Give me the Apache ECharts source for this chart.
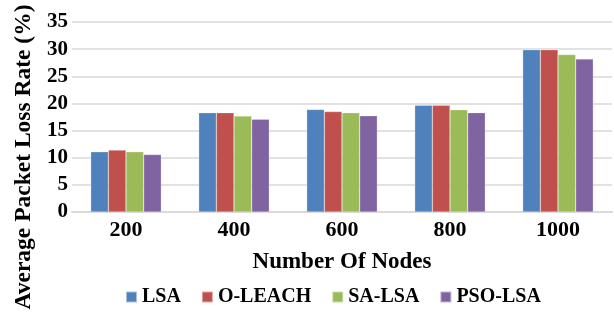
<!DOCTYPE html>
<html>
<head>
<meta charset="utf-8">
<script src="https://cdn.jsdelivr.net/npm/echarts@6/dist/echarts.min.js"></script>
<style>
  html, body { margin: 0; padding: 0; background: #fff; }
  #chart { width: 614px; height: 315px; }
</style>
</head>
<body>
<div id="chart"></div>
<script>
// data
const nodes = ['200', '400', '600', '800', '1000'];
const lsa = [11.1, 18.3, 18.9, 19.65, 29.9];
const oLeach = [11.4, 18.3, 18.5, 19.65, 29.9];
const saLsa = [11.1, 17.7, 18.3, 18.85, 29.0];
const psoLsa = [10.6, 17.1, 17.75, 18.3, 28.2];

const font = '"Liberation Serif", "Times New Roman", serif';

const chart = echarts.init(document.getElementById('chart'));

function bar(name, data, color) {
    return {
        name: name,
        type: 'bar',
        data: data,
        barGap: '0%',
        barCategoryGap: '34.6%',
        itemStyle: { color: color, borderColor: 'rgba(255,255,255,0.5)', borderWidth: 0.5 }
    };
}

chart.setOption({
    animation: false,
    textStyle: { fontFamily: font },
    grid: { left: 72, right: 2, top: 22, bottom: 103, containLabel: false },
    legend: {
        bottom: 3,
        left: 120,
        icon: 'rect',
        itemWidth: 11,
        itemHeight: 11,
        itemGap: 20,
        textStyle: { fontFamily: font, fontWeight: 'bold', fontSize: 20, color: '#000' },
        data: ['LSA', 'O-LEACH', 'SA-LSA', 'PSO-LSA']
    },
    xAxis: {
        type: 'category',
        data: nodes,
        name: 'Number Of Nodes',
        nameLocation: 'middle',
        nameGap: 39,
        nameTextStyle: { fontFamily: font, fontWeight: 'bold', fontSize: 23, color: '#000' },
        axisLine: { lineStyle: { color: '#d9d9d9', width: 2 } },
        axisTick: { show: false },
        axisLabel: { fontFamily: font, fontWeight: 'bold', fontSize: 22, color: '#000', margin: 7 }
    },
    yAxis: {
        type: 'value',
        min: 0,
        max: 35,
        interval: 5,
        axisLine: { show: false },
        axisTick: { show: false },
        axisLabel: { fontFamily: font, fontWeight: 'bold', fontSize: 21, color: '#000', margin: 4 },
        splitLine: { lineStyle: { color: '#d9d9d9', width: 1.5 } }
    },
    graphic: [{
        type: 'text',
        x: 24,
        y: 157,
        rotation: Math.PI / 2,
        style: {
            text: 'Average Packet Loss Rate (%)',
            fontFamily: font,
            fontWeight: 'bold',
            fontSize: 23.5,
            fill: '#000',
            align: 'center',
            verticalAlign: 'middle'
        }
    }],
    series: [
        bar('LSA', lsa, '#4f81bd'),
        bar('O-LEACH', oLeach, '#c0504d'),
        bar('SA-LSA', saLsa, '#9bbb59'),
        bar('PSO-LSA', psoLsa, '#8064a2')
    ]
});
</script>
</body>
</html>
